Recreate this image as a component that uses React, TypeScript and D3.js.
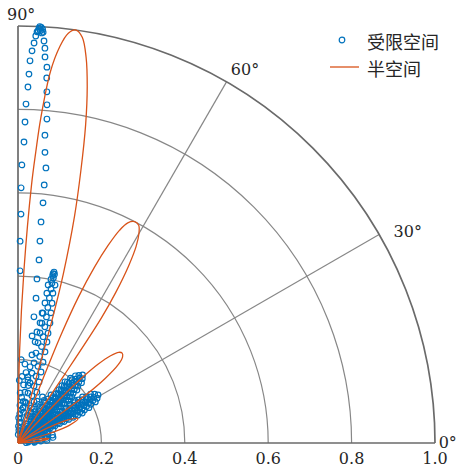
import { useEffect, useRef } from "react";
import * as d3 from "d3";

const LAYOUT = {
  width: 459,
  height: 470,
  center: { x: 18, y: 443 },
  radius: 417,
};

const R_TICKS = [0, 0.2, 0.4, 0.6, 0.8, 1.0];
const R_TICK_LABELS = ["0", "0.2", "0.4", "0.6", "0.8", "1.0"];
const THETA_SPOKES = [30, 60];
const THETA_LABELS = [
  { deg: 90, text: "90°", dx: -11, dy: 11 },
  { deg: 60, text: "60°", dx: -4, dy: 8 },
  { deg: 30, text: "30°", dx: 0, dy: 11 },
  { deg: 0, text: "0°", dx: -13, dy: 5 },
];

const SERIES_NAMES = ["受限空间", "半空间"];
const COLORS = { confined: "#0072BD", half: "#D95319" };

// 受限空间 samples, [angle in degrees, r]
const CONFINED_TOP_LEFT = [
  [87.0, 1.0], [87.35, 0.987], [87.5, 0.977], [87.7, 0.96], [87.95, 0.941],
  [88.2, 0.917], [88.3, 0.885], [88.4, 0.854], [88.65, 0.813], [88.75, 0.77],
  [88.86, 0.722], [89.2, 0.667], [89.3, 0.612], [89.25, 0.549], [89.4, 0.484],
  [89.3, 0.413],
];
const CONFINED_TOP_TIP = [
  [86.8, 0.998], [86.6, 0.994], [87.1, 0.996], [86.9, 0.99], [86.7, 0.985], [87.2, 0.99],
];
const CONFINED_TOP_RIGHT = [
  [86.5, 0.987], [86.3, 0.966], [86.1, 0.949], [86.0, 0.928], [85.6, 0.904],
  [85.5, 0.878], [85.3, 0.845], [85.1, 0.814], [84.9, 0.78], [85.0, 0.741],
  [84.7, 0.7], [84.2, 0.663], [84.2, 0.622], [84.05, 0.579], [84.05, 0.533],
  [83.8, 0.487], [83.45, 0.442], [83.4, 0.396], [82.9, 0.35], [82.8, 0.305],
  [82.5, 0.259], [81.0, 0.214], [81.0, 0.185], [81.0, 0.153], [82.2, 0.123],
  [81.9, 0.085],
];
const CONFINED_NEAR_AXIS = [
  [79.5, 0.317], [79.6, 0.293], [80.3, 0.27], [80.4, 0.246], [81.5, 0.16],
  [80.0, 0.14], [83.0, 0.1], [80.5, 0.1], [79.8, 0.075], [84.0, 0.06],
  [86.0, 0.05], [86.0, 0.03], [88.5, 0.06], [88.5, 0.04], [88.5, 0.02],
  [84.5, 0.14], [85.5, 0.11], [87.0, 0.09], [84.0, 0.08], [86.5, 0.07],
  [82.0, 0.05], [84.0, 0.035], [87.5, 0.12], [86.5, 0.16], [85.0, 0.19],
  [83.5, 0.17], [87.8, 0.2], [88.8, 0.15],
];
const CONFINED_LOBE_78 = [
  [78.1, 0.419], [78.3, 0.415], [77.8, 0.414], [77.9, 0.405], [78.3, 0.41], [78.6, 0.4],
  [76.8, 0.389], [76.9, 0.369], [76.3, 0.345], [75.8, 0.322], [75.1, 0.298],
  [74.7, 0.273], [74.0, 0.252], [73.5, 0.228], [72.8, 0.203], [72.0, 0.179],
  [71.0, 0.155], [69.6, 0.13], [68.7, 0.106], [67.0, 0.08],
  [79.2, 0.386], [79.1, 0.366], [79.1, 0.342], [79.1, 0.317], [78.7, 0.293],
  [78.7, 0.269], [78.7, 0.245], [78.7, 0.22], [78.7, 0.196], [78.7, 0.171],
  [78.7, 0.147], [78.7, 0.122], [78.7, 0.098],
  [78.0, 0.392], [77.9, 0.378], [77.8, 0.356], [77.6, 0.333], [77.3, 0.31],
  [77.0, 0.286], [76.7, 0.262], [76.3, 0.238], [75.9, 0.214], [75.4, 0.19],
  [74.9, 0.166], [74.3, 0.142], [73.6, 0.118], [72.8, 0.094], [71.5, 0.07],
];

// dense fan near the origin, one row per angle: { deg, r: [...] }
const CONFINED_FAN_ROWS = [
  { deg: 55.5, r: [0.14, 0.128, 0.116, 0.104, 0.092, 0.08, 0.068, 0.056, 0.044, 0.032] },
  { deg: 52.5, r: [0.185, 0.173, 0.161, 0.149, 0.137, 0.125, 0.113, 0.101, 0.089, 0.077, 0.065, 0.053, 0.041, 0.029] },
  { deg: 51, r: [0.2, 0.188, 0.176, 0.164, 0.152, 0.14, 0.128, 0.116, 0.104, 0.092, 0.08, 0.068, 0.056, 0.044, 0.032] },
  { deg: 49.5, r: [0.212, 0.2, 0.188, 0.176, 0.164, 0.152, 0.14, 0.128, 0.116, 0.104, 0.092, 0.08, 0.068, 0.056, 0.044, 0.032, 0.02] },
  { deg: 48, r: [0.218, 0.206, 0.194, 0.182, 0.17, 0.158, 0.146, 0.134, 0.122, 0.11, 0.098, 0.086, 0.074, 0.062, 0.05, 0.038, 0.026, 0.014] },
  { deg: 46.5, r: [0.225, 0.214, 0.202, 0.19, 0.178, 0.166, 0.154, 0.142, 0.13, 0.118, 0.106, 0.094, 0.082, 0.07, 0.058, 0.046, 0.034, 0.022, 0.01] },
  { deg: 45, r: [0.218, 0.206, 0.194, 0.182, 0.17, 0.158, 0.146, 0.134, 0.122, 0.11, 0.098, 0.086, 0.074, 0.062, 0.05, 0.038, 0.026, 0.014] },
  { deg: 43.5, r: [0.21, 0.198, 0.186, 0.174, 0.162, 0.15, 0.138, 0.126, 0.114, 0.102, 0.09, 0.078, 0.066, 0.054, 0.042, 0.03, 0.018] },
  { deg: 42, r: [0.19, 0.178, 0.166, 0.154, 0.142, 0.13, 0.118, 0.106, 0.094, 0.082, 0.07, 0.058, 0.046, 0.034, 0.022] },
  { deg: 40.5, r: [0.17, 0.158, 0.146, 0.134, 0.122, 0.11, 0.098, 0.086, 0.074, 0.062, 0.05, 0.038, 0.026] },
  { deg: 37, r: [0.17, 0.155, 0.14, 0.125, 0.11, 0.095, 0.08, 0.065, 0.05, 0.035] },
  { deg: 35.5, r: [0.19, 0.178, 0.166, 0.154, 0.142, 0.13, 0.118, 0.106, 0.094, 0.082, 0.07, 0.058, 0.046, 0.034] },
  { deg: 34, r: [0.21, 0.198, 0.186, 0.174, 0.162, 0.15, 0.138, 0.126, 0.114, 0.102, 0.09, 0.078, 0.066, 0.054, 0.042, 0.03] },
  { deg: 32.5, r: [0.218, 0.206, 0.194, 0.182, 0.17, 0.158, 0.146, 0.134, 0.122, 0.11, 0.098, 0.086, 0.074, 0.062, 0.05, 0.038, 0.026, 0.014] },
  { deg: 31, r: [0.224, 0.212, 0.2, 0.188, 0.176, 0.164, 0.152, 0.14, 0.128, 0.116, 0.104, 0.092, 0.08, 0.068, 0.056, 0.044, 0.032, 0.02] },
  { deg: 29.5, r: [0.218, 0.206, 0.194, 0.182, 0.17, 0.158, 0.146, 0.134, 0.122, 0.11, 0.098, 0.086, 0.074, 0.062, 0.05, 0.038, 0.026, 0.014] },
  { deg: 28, r: [0.21, 0.198, 0.186, 0.174, 0.162, 0.15, 0.138, 0.126, 0.114, 0.102, 0.09, 0.078, 0.066, 0.054, 0.042, 0.03] },
  { deg: 26.5, r: [0.19, 0.178, 0.166, 0.154, 0.142, 0.13, 0.118, 0.106, 0.094, 0.082, 0.07, 0.058, 0.046, 0.034] },
  { deg: 25, r: [0.17, 0.158, 0.146, 0.134, 0.122, 0.11, 0.098, 0.086, 0.074, 0.062, 0.05, 0.038] },
  { deg: 21, r: [0.09, 0.075, 0.06, 0.045, 0.03] },
  { deg: 17, r: [0.075, 0.06, 0.045, 0.03] },
  { deg: 13, r: [0.085, 0.07, 0.055, 0.04, 0.025] },
  { deg: 9, r: [0.085, 0.07, 0.055, 0.04, 0.025] },
  { deg: 5, r: [0.07, 0.055, 0.04, 0.025] },
  { deg: 2, r: [0.04, 0.02] },
  { deg: 58.5, r: [0.12, 0.1, 0.08, 0.06, 0.04, 0.02] },
  { deg: 62, r: [0.125, 0.105, 0.085, 0.065, 0.045, 0.025] },
  { deg: 65.5, r: [0.11, 0.09, 0.07, 0.05, 0.03] },
  { deg: 69, r: [0.09, 0.07, 0.05, 0.03] },
];

// 半空间 lobes, [angle in degrees, r]
const HALF_LOBE_82 = [
  [74.3, 0], [74.5, 0.3], [75, 0.42], [76, 0.56], [77, 0.67], [78, 0.78],
  [79, 0.87], [80, 0.94], [81, 0.985], [82, 1.0], [83, 0.99], [84, 0.955],
  [85, 0.895], [86, 0.78], [86.5, 0.7], [87, 0.62], [88, 0.42], [89, 0.22], [89.6, 0],
];
const HALF_LOBE_62 = [
  [55.5, 0], [55.8, 0.2], [56.3, 0.36], [57, 0.43], [58, 0.5], [59, 0.55],
  [60, 0.58], [61, 0.597], [62.2, 0.6], [63.5, 0.59], [64.5, 0.565],
  [65.5, 0.52], [66.5, 0.46], [67.5, 0.38], [68.3, 0.28], [68.8, 0.15], [69, 0],
];
const HALF_LOBE_40 = [
  [34, 0], [34.5, 0.12], [35.3, 0.2], [36.5, 0.26], [38, 0.305], [39.5, 0.325],
  [40.8, 0.33], [42, 0.325], [43.3, 0.305], [44.5, 0.27], [45.5, 0.22],
  [46.3, 0.15], [47, 0],
];
const HALF_LOBE_22 = [
  [16, 0], [17, 0.08], [19, 0.13], [22, 0.155], [25, 0.13], [27, 0.08], [28, 0],
];
const HALF_LOBE_8 = [
  [3, 0], [4.5, 0.05], [8, 0.075], [11, 0.05], [12.5, 0],
];

const CONFINED_GROUPS = [
  CONFINED_TOP_LEFT, CONFINED_TOP_TIP, CONFINED_TOP_RIGHT, CONFINED_NEAR_AXIS,
  CONFINED_LOBE_78,
  CONFINED_FAN_ROWS.flatMap((row) => row.r.map((r) => [row.deg, r])),
];
const HALF_LOBES = [HALF_LOBE_82, HALF_LOBE_62, HALF_LOBE_40, HALF_LOBE_22, HALF_LOBE_8];

const SERIF = "'DejaVu Serif', serif";
const CJK = "'Noto Sans CJK SC', sans-serif";

const toRad = (deg: number) => (deg * Math.PI) / 180;

function drawGrid(g: any, rScale: any) {
  const gridColor = "#878787";
  const axisColor = "#6a6a6a";

  R_TICKS.filter((t) => t > 0 && t < 1).forEach((t) => {
    const p = d3.path();
    p.arc(0, 0, rScale(t), -Math.PI / 2, 0);
    g.append("path").attr("d", p.toString()).attr("fill", "none")
      .attr("stroke", gridColor).attr("stroke-width", 1.2);
  });

  THETA_SPOKES.forEach((deg) => {
    const r = rScale(1);
    g.append("line")
      .attr("x1", 0).attr("y1", 0)
      .attr("x2", r * Math.cos(toRad(deg))).attr("y2", -r * Math.sin(toRad(deg)))
      .attr("stroke", gridColor).attr("stroke-width", 1.2);
  });

  const outer = d3.path();
  outer.arc(0, 0, rScale(1), -Math.PI / 2, 0);
  g.append("path").attr("d", outer.toString()).attr("fill", "none")
    .attr("stroke", axisColor).attr("stroke-width", 1.7);

  g.append("line").attr("x1", 0).attr("y1", 0).attr("x2", rScale(1)).attr("y2", 0)
    .attr("stroke", axisColor).attr("stroke-width", 1.7);
  g.append("line").attr("x1", 0).attr("y1", 0).attr("x2", 0).attr("y2", -rScale(1))
    .attr("stroke", axisColor).attr("stroke-width", 1.7);
}

function drawLabels(g: any, rScale: any) {
  R_TICKS.forEach((t, i) => {
    g.append("text")
      .attr("x", rScale(t)).attr("y", 21)
      .attr("text-anchor", "middle")
      .attr("font-family", SERIF).attr("font-size", 16).attr("fill", "#262626")
      .text(R_TICK_LABELS[i]);
  });

  THETA_LABELS.forEach((l) => {
    const r = rScale(1.04);
    g.append("text")
      .attr("x", r * Math.cos(toRad(l.deg)) + l.dx)
      .attr("y", -r * Math.sin(toRad(l.deg)) + l.dy)
      .attr("font-family", SERIF).attr("font-size", 16).attr("fill", "#262626")
      .text(l.text);
  });
}

function drawSeries(g: any, rScale: any) {
  const points = CONFINED_GROUPS.flat();
  g.append("g").selectAll("circle").data(points).join("circle")
    .attr("cx", (d: number[]) => rScale(d[1]) * Math.cos(toRad(d[0])))
    .attr("cy", (d: number[]) => -rScale(d[1]) * Math.sin(toRad(d[0])))
    .attr("r", 2.8)
    .attr("fill", "none")
    .attr("stroke", COLORS.confined)
    .attr("stroke-width", 1.2);

  const line = d3
    .lineRadial<number[]>()
    .angle((d) => toRad(90 - d[0]))
    .radius((d) => rScale(d[1]))
    .curve(d3.curveCatmullRom);

  HALF_LOBES.forEach((lobe) => {
    g.append("path").attr("d", line(lobe)).attr("fill", "none")
      .attr("stroke", COLORS.half).attr("stroke-width", 1.3);
  });
}

function drawLegend(svg: any) {
  const lg = svg.append("g").attr("transform", "translate(330, 40)");
  lg.append("circle").attr("cx", 12).attr("cy", 0).attr("r", 2.8)
    .attr("fill", "none").attr("stroke", COLORS.confined).attr("stroke-width", 1.2);
  lg.append("line").attr("x1", 0).attr("x2", 29).attr("y1", 27).attr("y2", 27)
    .attr("stroke", COLORS.half).attr("stroke-width", 1.3);
  SERIES_NAMES.forEach((name, i) => {
    lg.append("text").attr("x", 37).attr("y", i * 27 + 1)
      .attr("dominant-baseline", "central")
      .attr("font-family", CJK).attr("font-size", 18).attr("fill", "#262626")
      .text(name);
  });
}

export default function App() {
  const ref = useRef<SVGSVGElement | null>(null);

  useEffect(() => {
    const node = ref.current;
    if (!node) return;
    const svg = d3.select(node);
    svg.selectAll("*").remove();

    const rScale = d3.scaleLinear().domain([0, 1]).range([0, LAYOUT.radius]);
    const g = svg.append("g")
      .attr("transform", `translate(${LAYOUT.center.x},${LAYOUT.center.y})`);

    drawGrid(g, rScale);
    drawSeries(g, rScale);
    drawLabels(g, rScale);
    drawLegend(svg);
  }, []);

  return (
    <svg
      ref={ref}
      width={LAYOUT.width}
      height={LAYOUT.height}
      style={{ position: "absolute", left: 0, top: 0, background: "#fff" }}
    />
  );
}
